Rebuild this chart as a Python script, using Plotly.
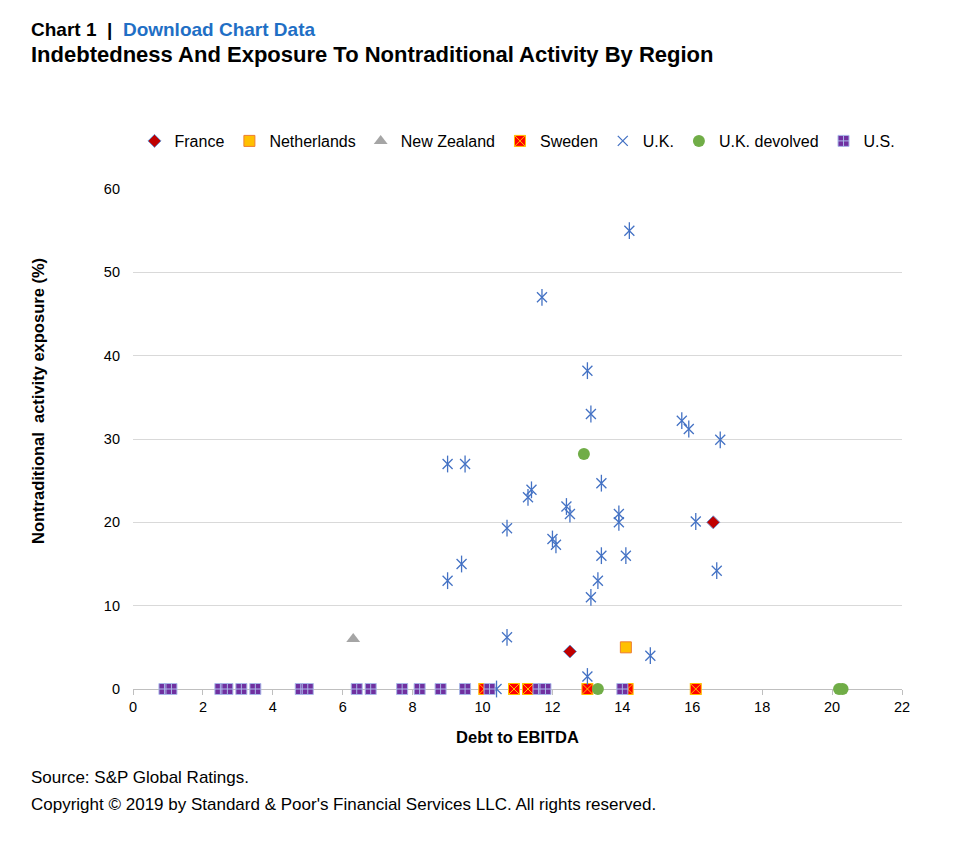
import plotly.graph_objects as go

# ---- data ----
france_x = [12.5, 16.6]
france_y = [4.5, 20.0]

netherlands_x = [14.1]
netherlands_y = [5.0]

new_zealand_x = [6.3]
new_zealand_y = [6.0]

sweden_x = [10.05, 10.9, 11.3, 13.0, 14.15, 16.1]
sweden_y = [0, 0, 0, 0, 0, 0]

uk_x = [14.2, 11.7, 13.0, 13.1, 15.7, 15.9, 16.8, 9.0, 9.5, 13.4, 11.4, 11.3,
        12.4, 12.5, 13.9, 13.9, 16.1, 10.7, 12.0, 12.1, 13.4, 14.1, 9.4, 9.0,
        13.3, 16.7, 13.1, 10.7, 13.0, 14.8, 10.4]
uk_y = [55, 47, 38.2, 33, 32.2, 31.2, 29.9, 27, 27, 24.7, 23.9, 23.0,
        21.9, 21.0, 21.0, 20.0, 20.1, 19.3, 18.0, 17.3, 16.0, 16.0, 15.0, 13.0,
        13.0, 14.2, 11.0, 6.2, 1.5, 4.0, 0]

uk_devolved_x = [12.9, 13.3, 20.2, 20.3]
uk_devolved_y = [28.2, 0, 0, 0]

us_x = [0.9, 1.1, 2.5, 2.7, 3.1, 3.5, 4.8, 5.0, 6.4, 6.8, 7.7, 8.2, 8.8, 9.5,
        10.2, 11.6, 11.8, 14.0]
us_y = [0] * len(us_x)

x_ticks = [0, 2, 4, 6, 8, 10, 12, 14, 16, 18, 20, 22]
y_ticks = [0, 10, 20, 30, 40, 50, 60]

FONT = "Liberation Sans, Arial, sans-serif"
UK_BLUE = "#4472C4"

fig = go.Figure()

fig.add_trace(go.Scatter(x=france_x, y=france_y, mode="markers", name="France",
                         marker=dict(symbol="diamond", size=10, color="#C00000",
                                     line=dict(color="#6F8FC9", width=1)),
                         cliponaxis=False))
fig.add_trace(go.Scatter(x=netherlands_x, y=netherlands_y, mode="markers", name="Netherlands",
                         marker=dict(symbol="square", size=11, color="#FFC000",
                                     line=dict(color="#ED7D31", width=1)),
                         cliponaxis=False))
fig.add_trace(go.Scatter(x=new_zealand_x, y=new_zealand_y, mode="markers", name="New Zealand",
                         marker=dict(symbol="triangle-up", size=12, color="#A5A5A5",
                                     line=dict(color="#A5A5A5", width=0)),
                         cliponaxis=False))
fig.add_trace(go.Scatter(x=sweden_x, y=sweden_y, mode="markers", name="Sweden",
                         marker=dict(symbol="square-x", size=11, color="#FF0000",
                                     line=dict(color="#FFC000", width=1)),
                         cliponaxis=False))
fig.add_trace(go.Scatter(x=uk_x, y=uk_y, mode="markers", name="U.K.", legendgroup="uk",
                         marker=dict(symbol="x-thin-open", size=10, color=UK_BLUE,
                                     line=dict(color=UK_BLUE, width=1.3)),
                         cliponaxis=False))
fig.add_trace(go.Scatter(x=uk_x, y=uk_y, mode="markers", name="U.K.", legendgroup="uk",
                         showlegend=False, hoverinfo="skip",
                         marker=dict(symbol="line-ns-open", size=12, color=UK_BLUE,
                                     line=dict(color=UK_BLUE, width=1.3)),
                         cliponaxis=False))
fig.add_trace(go.Scatter(x=uk_devolved_x, y=uk_devolved_y, mode="markers", name="U.K. devolved",
                         marker=dict(symbol="circle", size=12, color="#70AD47",
                                     line=dict(color="#70AD47", width=0)),
                         cliponaxis=False))
fig.add_trace(go.Scatter(x=us_x, y=us_y, mode="markers", name="U.S.",
                         marker=dict(symbol="square-cross", size=11, color="#7030A0",
                                     line=dict(color="#A9B8E8", width=1)),
                         cliponaxis=False))

PW = 769.0  # plot width in px
PH = 500.0  # plot height in px

fig.update_layout(
    width=973, height=847,
    paper_bgcolor="white", plot_bgcolor="white",
    font=dict(family=FONT, color="#000000"),
    margin=dict(l=133, r=71, t=189, b=158),
    showlegend=True,
    legend=dict(orientation="h", x=0.5, xanchor="center", y=(689 - 141) / PH, yanchor="middle",
                font=dict(size=16, family=FONT), itemwidth=30, tracegroupgap=0,
                bgcolor="rgba(0,0,0,0)"),
    xaxis=dict(range=[0, 22], tickvals=x_ticks, ticktext=[str(v) for v in x_ticks],
               showgrid=False, zeroline=False, showline=True, linecolor="#BFBFBF",
               linewidth=1, ticks="outside", ticklen=5, tickcolor="#BFBFBF",
               tickfont=dict(size=14.5, family=FONT, color="#000000"),
               title=dict(text="<b>Debt to EBITDA</b>", font=dict(size=16.5, family=FONT),
                          standoff=17),
               layer="below traces", fixedrange=True),
    yaxis=dict(range=[0, 60], tickvals=y_ticks, ticktext=[str(v) for v in y_ticks],
               showgrid=True, gridcolor="#D9D9D9", gridwidth=1, zeroline=False,
               showline=False, ticks="", ticklabelstandoff=12,
               tickfont=dict(size=14.5, family=FONT, color="#000000"),
               layer="below traces", fixedrange=True),
)

# y-axis title (placed as in the reference, above plot centre)
fig.add_annotation(xref="paper", yref="paper", x=(38 - 133) / PW, y=(689 - 401) / PH,
                   xanchor="center", yanchor="middle", showarrow=False, textangle=-90,
                   text="<b>Nontraditional  activity exposure (%)</b>",
                   font=dict(size=16.5, family=FONT, color="#000000"))

fig.add_annotation(xref="paper", yref="paper", x=-104 / PW, y=(689 - 30) / PH, xanchor="left",
                   yanchor="middle", showarrow=False,
                   text="<b>Chart 1  |  <span style='color:#1F6FC5'>Download Chart Data</span></b>",
                   font=dict(size=19, family=FONT, color="#000000"))
fig.add_annotation(xref="paper", yref="paper", x=-104 / PW, y=(689 - 54) / PH, xanchor="left",
                   yanchor="middle", showarrow=False,
                   text="<b>Indebtedness And Exposure To Nontraditional Activity By Region</b>",
                   font=dict(size=22, family=FONT, color="#000000"))
fig.add_annotation(xref="paper", yref="paper", x=-104 / PW, y=(689 - 777) / PH, xanchor="left",
                   yanchor="middle", showarrow=False,
                   text="Source: S&P Global Ratings.",
                   font=dict(size=17, family=FONT, color="#000000"))
fig.add_annotation(xref="paper", yref="paper", x=-104 / PW, y=(689 - 804) / PH, xanchor="left",
                   yanchor="middle", showarrow=False,
                   text="Copyright © 2019 by Standard & Poor's Financial Services LLC. All rights reserved.",
                   font=dict(size=17, family=FONT, color="#000000"))

fig.write_html("out.html", config={"displayModeBar": False},
               post_script="document.body.style.margin='0px';")
